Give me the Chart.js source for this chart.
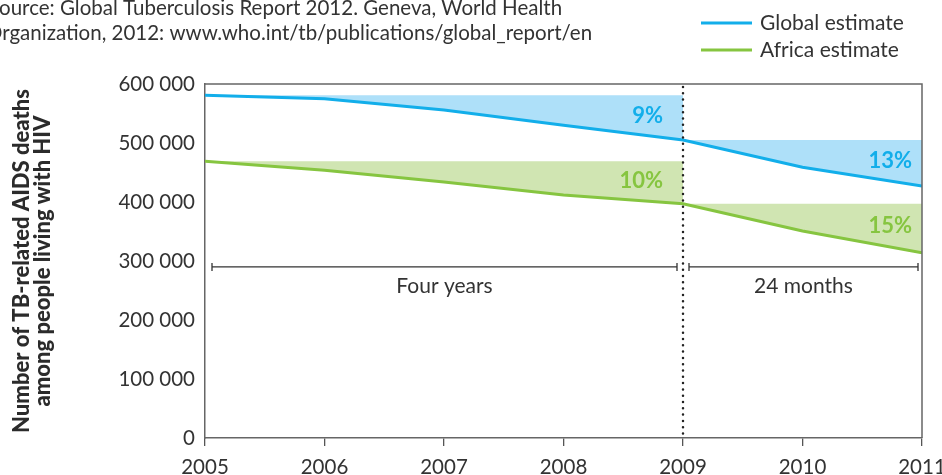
<!DOCTYPE html>
<html>
<head>
<meta charset="utf-8">
<script src="https://cdn.jsdelivr.net/npm/chart.js@4/dist/chart.umd.min.js"></script>
<style>
  html, body { margin: 0; padding: 0; background: #fff; }
  #wrap { width: 942px; height: 475px; position: relative; }
</style>
</head>
<body>
<div id="wrap"><canvas id="myChart" width="942" height="475"></canvas></div>
<script>
// data
var years = [2005, 2006, 2007, 2008, 2009, 2010, 2011];
var globalEst = [581000, 575000, 556000, 530000, 505000, 459000, 427000];
var africaEst = [469000, 454000, 434000, 412000, 397000, 351000, 314000];
var globalDrops = ['9%', '13%'];
var africaDrops = ['10%', '15%'];
var periodLabels = ['Four years', '24 months'];
var splitYear = 2009;
var yTicks = [0, 100000, 200000, 300000, 400000, 500000, 600000];
var sourceLines = [
  'Source: Global Tuberculosis Report 2012. Geneva, World Health',
  'Organization, 2012: www.who.int/tb/publications/global_report/en'
];

var blue = '#12aeea', blueFill = '#aee0f9';
var green = '#86c540', greenFill = '#d0e5b2';
var FONT = 'Lato, "Noto Sans", sans-serif';

function pts(vals, from, to) {
  var out = [];
  for (var i = 0; i < years.length; i++) {
    if (years[i] >= from && years[i] <= to) out.push({ x: years[i], y: vals[i] });
  }
  return out;
}
function flat(vals, from, to) {
  var base = vals[years.indexOf(from)];
  return pts(vals, from, to).map(function (p) { return { x: p.x, y: base }; });
}
function valAt(vals, yr) { return vals[years.indexOf(yr)]; }

var first = years[0], last = years[years.length - 1];

var datasets = [
  { label: 'Global estimate', data: pts(globalEst, first, last), borderColor: blue, borderWidth: 3, pointRadius: 0, fill: false, order: 0 },
  { label: 'Africa estimate', data: pts(africaEst, first, last), borderColor: green, borderWidth: 3, pointRadius: 0, fill: false, order: 0 },
  // shaded gaps
  { data: pts(globalEst, first, splitYear), borderWidth: 0, pointRadius: 0, fill: false, order: 2 },
  { data: flat(globalEst, first, splitYear), borderWidth: 0, pointRadius: 0, fill: 2, backgroundColor: blueFill, order: 1 },
  { data: pts(globalEst, splitYear, last), borderWidth: 0, pointRadius: 0, fill: false, order: 2 },
  { data: flat(globalEst, splitYear, last), borderWidth: 0, pointRadius: 0, fill: 4, backgroundColor: blueFill, order: 1 },
  { data: pts(africaEst, first, splitYear), borderWidth: 0, pointRadius: 0, fill: false, order: 2 },
  { data: flat(africaEst, first, splitYear), borderWidth: 0, pointRadius: 0, fill: 6, backgroundColor: greenFill, order: 1 },
  { data: pts(africaEst, splitYear, last), borderWidth: 0, pointRadius: 0, fill: false, order: 2 },
  { data: flat(africaEst, splitYear, last), borderWidth: 0, pointRadius: 0, fill: 8, backgroundColor: greenFill, order: 1 }
];

var extras = {
  id: 'extras',
  afterDatasetsDraw: function (chart) {
    var ctx = chart.ctx, a = chart.chartArea;
    var xs = chart.scales.x, ys = chart.scales.y;
    var xSplit = xs.getPixelForValue(splitYear);
    ctx.save();

    // frame top / right
    ctx.strokeStyle = '#666';
    ctx.lineWidth = 1.5;
    ctx.beginPath();
    ctx.moveTo(a.left, a.top);
    ctx.lineTo(a.right, a.top);
    ctx.lineTo(a.right, a.bottom);
    ctx.stroke();

    // dotted split line
    ctx.strokeStyle = '#222';
    ctx.lineWidth = 2.5;
    ctx.lineCap = 'round';
    ctx.setLineDash([0, 6.3]);
    ctx.beginPath();
    ctx.moveTo(xSplit, a.top + 3);
    ctx.lineTo(xSplit, a.bottom - 3);
    ctx.stroke();
    ctx.setLineDash([]);
    ctx.lineCap = 'butt';

    // percentage labels
    ctx.font = 'bold 22px ' + FONT;
    ctx.textAlign = 'right';
    ctx.textBaseline = 'middle';
    var ends = [[first, splitYear, xSplit - 20], [splitYear, last, a.right - 10]];
    ends.forEach(function (e, i) {
      var gy = (valAt(globalEst, e[0]) + valAt(globalEst, e[1])) / 2;
      var ay = (valAt(africaEst, e[0]) + valAt(africaEst, e[1])) / 2;
      ctx.fillStyle = blue;
      ctx.fillText(globalDrops[i], e[2], ys.getPixelForValue(gy) - 2);
      ctx.fillStyle = green;
      ctx.fillText(africaDrops[i], e[2], ys.getPixelForValue(ay) - 2);
    });

    // period brackets
    var by = ys.getPixelForValue(290000);
    var spans = [[xs.getPixelForValue(first) + 7, xSplit - 6], [xSplit + 6, xs.getPixelForValue(last) - 4]];
    ctx.strokeStyle = '#333';
    ctx.lineWidth = 1.3;
    ctx.fillStyle = '#333';
    ctx.font = '21px ' + FONT;
    ctx.textAlign = 'center';
    spans.forEach(function (s, i) {
      ctx.beginPath();
      ctx.moveTo(s[0], by); ctx.lineTo(s[1], by);
      ctx.moveTo(s[0], by - 4); ctx.lineTo(s[0], by + 4);
      ctx.moveTo(s[1], by - 4); ctx.lineTo(s[1], by + 4);
      ctx.stroke();
      ctx.fillText(periodLabels[i], (s[0] + s[1]) / 2, by + 19);
    });
    ctx.restore();
  },
  afterDraw: function (chart) {
    var ctx = chart.ctx;
    ctx.save();
    // source note, clipped at the left edge like the original
    ctx.fillStyle = '#333';
    ctx.font = '20.5px ' + FONT;
    ctx.textAlign = 'left';
    ctx.textBaseline = 'middle';
    ctx.fillText(sourceLines[0], -12, 8);
    ctx.fillText(sourceLines[1], -14, 33);

    // legend
    var items = [[datasets[0].label, blue, 23], [datasets[1].label, green, 50]];
    items.forEach(function (it) {
      ctx.strokeStyle = it[1];
      ctx.lineWidth = 3;
      ctx.beginPath();
      ctx.moveTo(701, it[2]); ctx.lineTo(752, it[2]);
      ctx.stroke();
      ctx.fillStyle = '#333';
      ctx.font = '21px ' + FONT;
      ctx.fillText(it[0], 760, it[2]);
    });
    ctx.restore();
  }
};

function spaced(v) { return String(v).replace(/\B(?=(\d{3})+(?!\d))/g, ' '); }

new Chart(document.getElementById('myChart'), {
  type: 'line',
  data: { datasets: datasets },
  options: {
    responsive: false,
    animation: false,
    layout: { padding: { top: 84, right: 20, left: 0, bottom: 0 } },
    plugins: { legend: { display: false }, tooltip: { enabled: false } },
    elements: { line: { tension: 0 } },
    scales: {
      x: {
        type: 'linear', min: first, max: last,
        afterBuildTicks: function (s) { s.ticks = years.map(function (y) { return { value: y }; }); },
        ticks: { callback: function (v) { return String(v); }, color: '#333', font: { family: FONT, size: 20.5 }, padding: 9, maxRotation: 0 },
        grid: { drawOnChartArea: false, tickLength: 8, color: '#555', lineWidth: 1.3 },
        border: { color: '#666', width: 1.5 },
        afterFit: function (s) { s.height = 37; s.paddingRight = 0; }
      },
      y: {
        min: 0, max: 600000,
        afterBuildTicks: function (s) { s.ticks = yTicks.map(function (v) { return { value: v }; }); },
        ticks: { callback: function (v) { return spaced(v); }, color: '#333', font: { family: FONT, size: 20.5 }, padding: 10 },
        grid: { display: false, drawTicks: false },
        border: { color: '#666', width: 1.5 },
        title: {
          display: true,
          text: ['Number of TB-related AIDS deaths', 'among people living with HIV'],
          color: '#2b2b2b',
          font: { family: FONT, size: 22, weight: 900, lineHeight: 0.96 },
          padding: { top: 11.5, bottom: 0 }
        },
        afterFit: function (s) { s.width = 205; }
      }
    }
  },
  plugins: [extras]
});
</script>
</body>
</html>
